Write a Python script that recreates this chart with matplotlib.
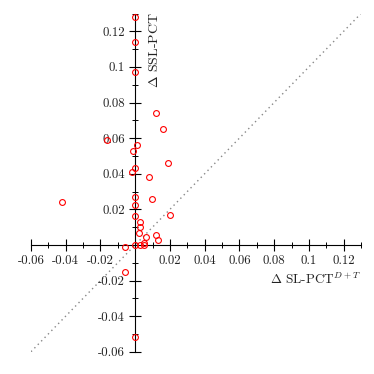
import matplotlib
matplotlib.use("Agg")
import matplotlib.pyplot as plt
from matplotlib.ticker import FixedLocator, FixedFormatter, MultipleLocator

plt.rcParams['font.family'] = ['cmr10', 'DejaVu Serif']
plt.rcParams['mathtext.fontset'] = 'cm'
plt.rcParams['axes.unicode_minus'] = False

# data (Δ SL-PCT^{D+T}, Δ SSL-PCT)
x_vals = [0, 0, 0, 0.0117, 0.016, -0.016, 0.001, -0.001, 0.019, 0, -0.002, 0.0079,
          -0.042, 0, 0, 0.0098, 0, 0.020, 0.003, 0.003, 0.002, 0.006, 0.012, 0.013,
          0, 0.003, 0.005, 0.005, -0.006, -0.006, 0]
y_vals = [0.128, 0.114, 0.097, 0.074, 0.065, 0.059, 0.056, 0.053, 0.046, 0.043, 0.041, 0.038,
          0.024, 0.027, 0.0227, 0.026, 0.016, 0.017, 0.0128, 0.010, 0.0068, 0.0047, 0.0058, 0.0027,
          0, 0, 0.0008, 0, -0.0013, -0.015, -0.052]

x_ticks = [-0.06, -0.04, -0.02, 0.02, 0.04, 0.06, 0.08, 0.1, 0.12]
x_tick_labels = ["-0.06", "-0.04", "-0.02", "0.02", "0.04", "0.06", "0.08", "0.1", "0.12"]
y_ticks = [-0.06, -0.04, -0.02, 0.02, 0.04, 0.06, 0.08, 0.1, 0.12]
y_tick_labels = ["-0.06", "-0.04", "-0.02", "0.02", "0.04", "0.06", "0.08", "0.1", "0.12"]
diag = [-0.06, 0.13]

fig = plt.figure(figsize=(3.74, 3.74), dpi=100)
ax = fig.add_axes([0.0829, 0.0596, 0.8824, 0.9043])
ax.set_xlim(-0.06, 0.13)
ax.set_ylim(-0.06, 0.13)

ax.plot(diag, diag, linestyle=(0, (1, 2.5)), color='#888888', lw=1.0, zorder=1)
ax.plot(x_vals, y_vals, linestyle='none', marker='o', markersize=4.2,
        markerfacecolor='none', markeredgecolor='#ff0000', markeredgewidth=0.8, zorder=3)

for s in ['top', 'right']:
    ax.spines[s].set_visible(False)
ax.spines['left'].set_position(('data', 0))
ax.spines['bottom'].set_position(('data', 0))
for s in ['left', 'bottom']:
    ax.spines[s].set_linewidth(0.8)
    ax.spines[s].set_color('black')

ax.xaxis.set_major_locator(FixedLocator(x_ticks))
ax.xaxis.set_major_formatter(FixedFormatter(x_tick_labels))
ax.yaxis.set_major_locator(FixedLocator(y_ticks))
ax.yaxis.set_major_formatter(FixedFormatter(y_tick_labels))
ax.xaxis.set_minor_locator(MultipleLocator(0.01))
ax.yaxis.set_minor_locator(MultipleLocator(0.01))
ax.tick_params(which='major', direction='inout', length=8, width=0.8, labelsize=9.2,
               labelcolor='#222222', pad=3)
ax.tick_params(which='minor', direction='inout', length=4, width=0.7)
ax.tick_params(axis='y', pad=3.5)

ax.text(0.0148, 0.1305, r'$\Delta$ SSL-PCT', rotation=90, ha='right', va='top',
        fontsize=10, color='#222222')
ax.text(0.1295, -0.0196, r'$\Delta$ SL-PCT$^{D+T}$', ha='right', va='center',
        fontsize=9.5, color='#222222')

fig.savefig('out.png', dpi=100)
